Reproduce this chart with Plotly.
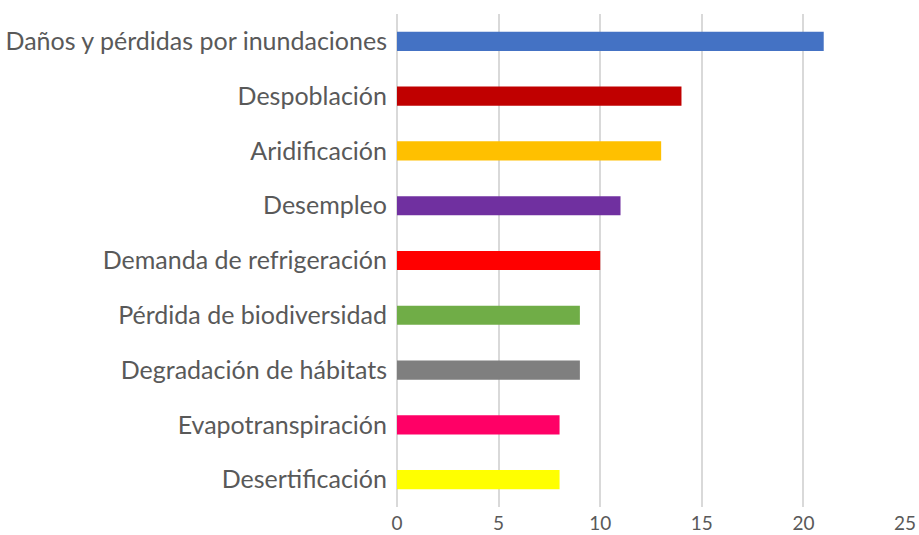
import plotly.graph_objects as go

categories = [
    "Daños y pérdidas por inundaciones",
    "Despoblación",
    "Aridificación",
    "Desempleo",
    "Demanda de refrigeración",
    "Pérdida de biodiversidad",
    "Degradación de hábitats",
    "Evapotranspiración",
    "Desertificación",
]
values = [21, 14, 13, 11, 10, 9, 9, 8, 8]
colors = ["#4472C4", "#C00000", "#FFC000", "#7030A0", "#FF0000",
          "#70AD47", "#7F7F7F", "#FF0066", "#FFFF00"]
x_ticks = [0, 5, 10, 15, 20, 25]

fig = go.Figure(go.Bar(
    x=values,
    y=categories,
    orientation="h",
    marker=dict(color=colors, line=dict(width=0)),
    width=0.35,
))

fig.update_layout(
    width=919,
    height=535,
    margin=dict(l=397, r=14, t=14, b=28),
    paper_bgcolor="white",
    plot_bgcolor="white",
    font=dict(family="Lato, sans-serif", color="#595959"),
    showlegend=False,
)
fig.update_xaxes(
    range=[0, 25],
    tickvals=x_ticks,
    showgrid=True,
    gridcolor="#D9D9D9",
    gridwidth=2,
    zeroline=True,
    zerolinecolor="#D9D9D9",
    zerolinewidth=2,
    showline=False,
    tickfont=dict(size=19),
    ticks="",
    ticklabelstandoff=3,
    automargin=False,
)
fig.update_yaxes(
    autorange="reversed",
    showgrid=False,
    zeroline=False,
    showline=False,
    tickfont=dict(size=25),
    ticks="",
    ticklabelstandoff=9,
    automargin=False,
)

# drop the default 8px body margin so the figure fills the window exactly
fig.write_html("out.html", config={"displayModeBar": False},
               post_script="document.body.style.margin='0';")
